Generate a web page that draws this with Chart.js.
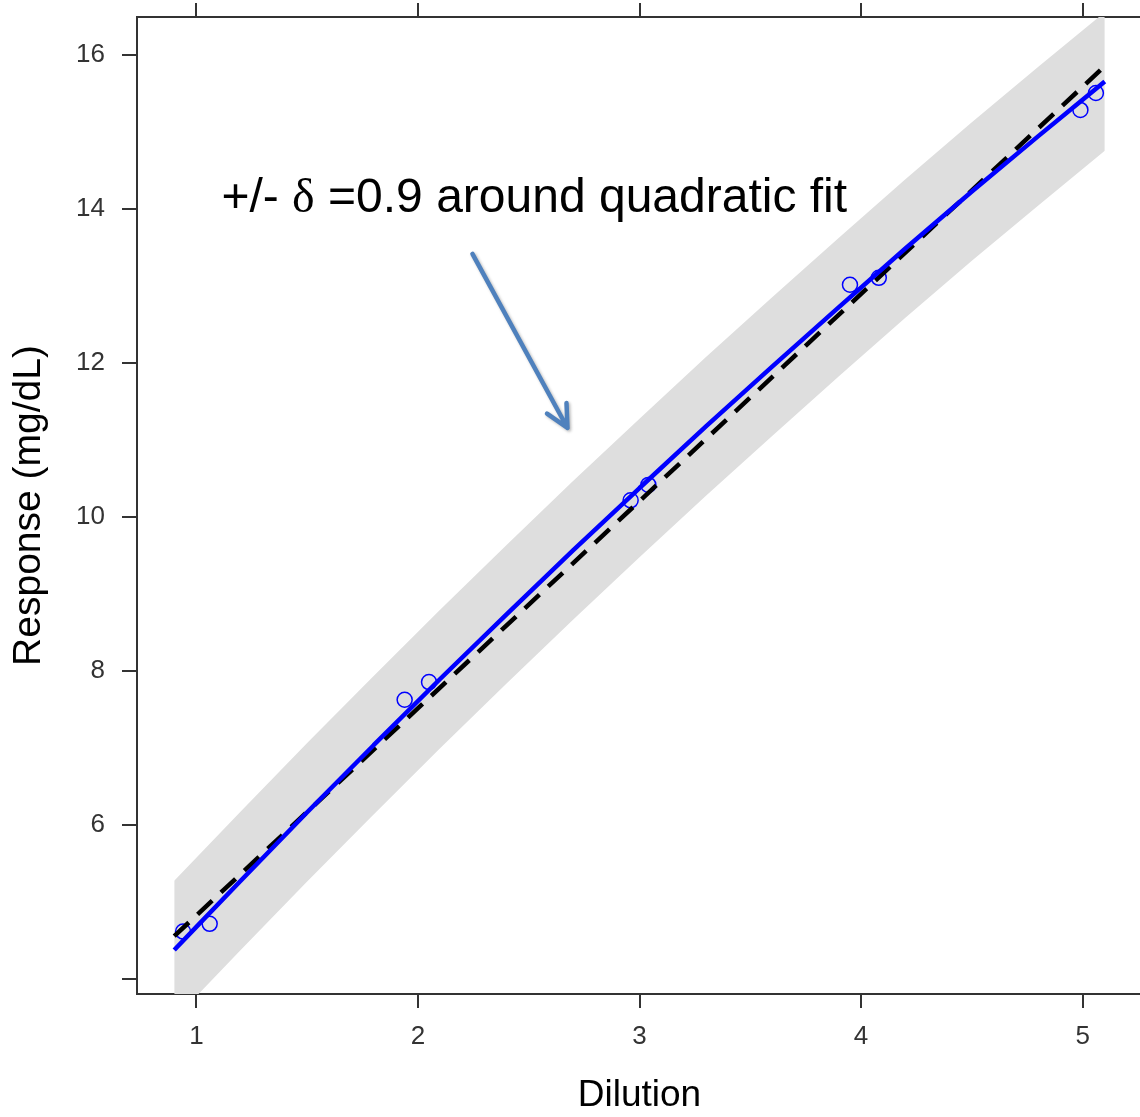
<!DOCTYPE html>
<html>
<head>
<meta charset="utf-8">
<script src="https://cdn.jsdelivr.net/npm/chart.js@4/dist/chart.umd.min.js"></script>
<style>
  html, body { margin: 0; padding: 0; background: #fff; overflow: hidden; }
  #wrap { position: absolute; left: 0; top: 0; width: 1160px; height: 1117px; }
</style>
</head>
<body>
<div id="wrap"><canvas id="c" width="1160" height="1117"></canvas></div>
<script>
// Observed responses at each dilution level (two replicates, slightly jittered)
const obsDilution = [0.94, 1.06, 1.94, 2.05, 2.96, 3.04, 3.95, 4.08, 4.99, 5.06];
const obsResponse = [4.62, 4.72, 7.63, 7.86, 10.22, 10.42, 13.02, 13.11, 15.29, 15.51];

// Quadratic fit evaluated along the dilution range
const fitDilution = [0.9, 1.2, 1.5, 1.8, 2.1, 2.4, 2.7, 3.0, 3.3, 3.6, 3.9, 4.2, 4.5, 4.8, 5.1];
const fitResponse = [4.38, 5.28, 6.17, 7.04, 7.90, 8.74, 9.57, 10.38, 11.18, 11.96, 12.73, 13.49, 14.23, 14.95, 15.66];

// Straight-line fit end points
const linDilution = [0.9, 5.1];
const linResponse = [4.56, 15.86];

// Equivalence margin around the quadratic fit
const DELTA = 0.9;

// Axis ticks
const xTicks = [1, 2, 3, 4, 5];
const xTickLabels = ['1', '2', '3', '4', '5'];
const yTicks = [4, 6, 8, 10, 12, 14, 16];
const yTickLabels = ['', '6', '8', '10', '12', '14', '16'];

const SANS = '"Liberation Sans", Arial, Helvetica, sans-serif';
const SERIF = '"Liberation Serif", "Times New Roman", serif';

const pts = (xs, ys) => xs.map((x, i) => ({ x: x, y: ys[i] }));
const upperBand = fitDilution.map((x, i) => ({ x: x, y: fitResponse[i] + DELTA }));
const lowerBand = fitDilution.map((x, i) => ({ x: x, y: fitResponse[i] - DELTA }));

// Callout text with an arrow pointing at the band
const callout = {
  id: 'callout',
  afterDatasetsDraw(chart) {
    const { ctx, scales: { x, y } } = chart;
    ctx.save();
    // text
    const tx = x.getPixelForValue(1.113);
    const ty = y.getPixelForValue(13.97);
    ctx.fillStyle = '#000';
    ctx.textBaseline = 'alphabetic';
    ctx.textAlign = 'left';
    const size = 48;
    let cx = tx;
    ctx.font = size + 'px ' + SANS;
    ctx.fillText('+/- ', cx, ty);
    cx += ctx.measureText('+/- ').width;
    ctx.font = size + 'px ' + SERIF;
    ctx.fillText('\u03B4', cx, ty);
    cx += ctx.measureText('\u03B4').width;
    ctx.font = size + 'px ' + SANS;
    ctx.fillText(' =' + DELTA + ' around quadratic fit', cx, ty);

    // arrow
    const x0 = x.getPixelForValue(2.246), y0 = y.getPixelForValue(13.42);
    const x1 = x.getPixelForValue(2.675), y1 = y.getPixelForValue(11.16);
    const ang = Math.atan2(y1 - y0, x1 - x0);
    const head = 25, spread = 0.46;
    ctx.strokeStyle = '#4F81BD';
    ctx.lineWidth = 4.5;
    ctx.lineCap = 'round';
    ctx.lineJoin = 'round';
    ctx.shadowColor = 'rgba(0,0,0,0.28)';
    ctx.shadowBlur = 3;
    ctx.shadowOffsetX = 1.5;
    ctx.shadowOffsetY = 1.5;
    ctx.beginPath();
    ctx.moveTo(x0, y0);
    ctx.lineTo(x1, y1);
    ctx.moveTo(x1 - head * Math.cos(ang - spread), y1 - head * Math.sin(ang - spread));
    ctx.lineTo(x1, y1);
    ctx.lineTo(x1 - head * Math.cos(ang + spread), y1 - head * Math.sin(ang + spread));
    ctx.stroke();
    ctx.restore();
  }
};

const axisColor = '#333';
const noPad = s => { s.paddingTop = 0; s.paddingBottom = 0; s.paddingLeft = 0; s.paddingRight = 0; };

new Chart(document.getElementById('c'), {
  type: 'scatter',
  data: {
    datasets: [
      {
        label: 'Quadratic fit',
        type: 'line',
        data: pts(fitDilution, fitResponse),
        borderColor: '#0000FF',
        borderWidth: 4.5,
        pointRadius: 0,
        cubicInterpolationMode: 'monotone',
        fill: false,
        order: 0
      },
      {
        label: 'Linear fit',
        type: 'line',
        data: pts(linDilution, linResponse),
        borderColor: '#000',
        borderWidth: 4.5,
        borderDash: [20, 12],
        pointRadius: 0,
        fill: false,
        order: 1
      },
      {
        label: 'Observed',
        data: pts(obsDilution, obsResponse),
        pointStyle: 'circle',
        pointRadius: 7.5,
        pointHoverRadius: 7.5,
        pointBorderColor: '#0000FF',
        pointBackgroundColor: 'rgba(0,0,0,0)',
        pointBorderWidth: 1.5,
        showLine: false,
        order: 2
      },
      {
        label: 'Upper margin',
        type: 'line',
        data: upperBand,
        borderWidth: 0,
        borderColor: 'rgba(0,0,0,0)',
        backgroundColor: 'rgb(222,222,222)',
        pointRadius: 0,
        fill: '+1',
        order: 3
      },
      {
        label: 'Lower margin',
        type: 'line',
        data: lowerBand,
        borderWidth: 0,
        borderColor: 'rgba(0,0,0,0)',
        pointRadius: 0,
        fill: false,
        order: 4
      }
    ]
  },
  options: {
    responsive: false,
    animation: false,
    devicePixelRatio: 1,
    layout: { padding: { left: 0, top: 0, right: 18, bottom: 0 } },
    plugins: {
      legend: { display: false },
      tooltip: { enabled: false }
    },
    scales: {
      x: {
        type: 'linear',
        position: 'bottom',
        min: 0.732,
        max: 5.268,
        afterBuildTicks: s => { s.ticks = xTicks.map(v => ({ value: v })); },
        afterFit: s => { s.height = 123; noPad(s); },
        grid: { drawOnChartArea: false, drawTicks: true, tickLength: 14, color: axisColor, lineWidth: 2 },
        border: { display: true, color: axisColor, width: 2 },
        ticks: {
          font: { family: SANS, size: 26, lineHeight: 1.2 },
          color: '#333',
          padding: 13,
          maxRotation: 0,
          autoSkip: false,
          callback: (v) => xTickLabels[xTicks.indexOf(v)]
        },
        title: {
          display: true,
          text: 'Dilution',
          color: '#000',
          font: { family: SANS, size: 37, lineHeight: 1 },
          padding: { top: 0, bottom: 3 }
        }
      },
      xTop: {
        type: 'linear',
        position: 'top',
        min: 0.732,
        max: 5.268,
        afterBuildTicks: s => { s.ticks = xTicks.map(v => ({ value: v })); },
        afterFit: s => { s.height = 17; noPad(s); },
        grid: { drawOnChartArea: false, drawTicks: true, tickLength: 14, color: axisColor, lineWidth: 2 },
        border: { display: true, color: axisColor, width: 2 },
        ticks: { callback: () => '', padding: 0 }
      },
      y: {
        type: 'linear',
        position: 'left',
        min: 3.809,
        max: 16.497,
        afterBuildTicks: s => { s.ticks = yTicks.map(v => ({ value: v })); },
        afterFit: s => { s.width = 137; noPad(s); },
        grid: { drawOnChartArea: false, drawTicks: true, tickLength: 15, color: axisColor, lineWidth: 2 },
        border: { display: true, color: axisColor, width: 2 },
        ticks: {
          font: { family: SANS, size: 26 },
          color: '#333',
          padding: 17,
          autoSkip: false,
          callback: (v) => yTickLabels[yTicks.indexOf(v)]
        },
        title: {
          display: true,
          text: 'Response (mg/dL)',
          color: '#000',
          font: { family: SANS, size: 39, lineHeight: 1 },
          padding: { top: 10, bottom: 0 }
        }
      }
    }
  },
  plugins: [callout]
});
</script>
</body>
</html>
